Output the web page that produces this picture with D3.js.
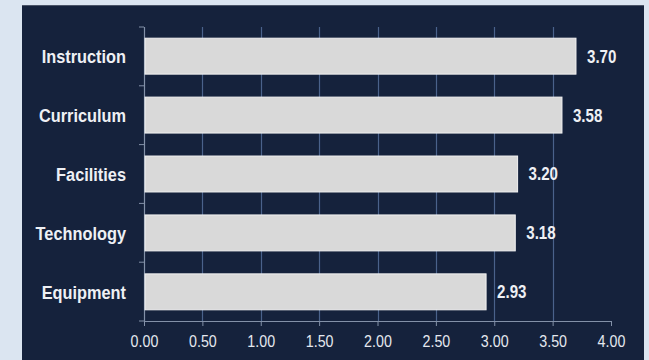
<!DOCTYPE html>
<html>
<head>
<meta charset="utf-8">
<script src="https://cdn.jsdelivr.net/npm/d3@7"></script>
<style>
  body { margin: 0; background: #dbe5f1; }
  svg { display: block; }
</style>
</head>
<body>
<svg id="drawing_region"></svg>
<script>
const categories = ['Instruction', 'Curriculum', 'Facilities', 'Technology', 'Equipment'];
const values = [3.70, 3.58, 3.20, 3.18, 2.93];
const xTicks = [0, 0.5, 1, 1.5, 2, 2.5, 3, 3.5, 4];

const data = categories.map((c, i) => ({ label: c, value: values[i] }));

const width = 649, height = 360;
const margin = { top: 27, right: 38, bottom: 39, left: 144 };
const inner_width = width - margin.left - margin.right;
const inner_height = height - margin.top - margin.bottom;
const font = "'Liberation Sans', Arial, sans-serif";
const squeeze = 0.84;   // the original type is a narrow face

const svg = d3.select('#drawing_region')
    .attr('width', width)
    .attr('height', height);

// dark panel
svg.append('rect')
    .attr('x', 22).attr('y', 5)
    .attr('width', 622).attr('height', 360)
    .attr('fill', '#15223c');
svg.append('line')
    .attr('x1', 22).attr('x2', 644).attr('y1', 5.5).attr('y2', 5.5)
    .attr('stroke', '#4a5468').attr('stroke-width', 1);

const chart = svg.append('g')
    .attr('transform', `translate(${margin.left}, ${margin.top})`);

const xscale = d3.scaleLinear()
    .domain([0, 4])
    .range([0, inner_width]);

const yscale = d3.scaleBand()
    .domain(categories)
    .range([0, inner_height])
    .paddingInner(0.39)
    .paddingOuter(0.19);

// gridlines
chart.append('g')
    .selectAll('line')
    .data(xTicks.filter(t => t > 0 && t < 4))
    .enter()
    .append('line')
    .attr('x1', d => Math.round(xscale(d)) + 0.5)
    .attr('x2', d => Math.round(xscale(d)) + 0.5)
    .attr('y1', 0)
    .attr('y2', inner_height)
    .attr('stroke', '#4a628b')
    .attr('stroke-width', 1.2);

// x axis
const xaxis = d3.axisBottom(xscale)
    .tickValues(xTicks)
    .tickFormat(d3.format('.2f'))
    .tickSize(5)
    .tickSizeOuter(0);

const xaxis_group = chart.append('g')
    .attr('transform', `translate(0, ${inner_height})`)
    .call(xaxis);
xaxis_group.select('.domain').attr('stroke', '#8391a8').attr('stroke-width', 1.2);
xaxis_group.selectAll('.tick line').attr('stroke', '#8391a8');
xaxis_group.selectAll('.tick text')
    .attr('fill', '#e4e8ef')
    .attr('font-size', '17px')
    .attr('font-family', font)
    .attr('y', 0)
    .attr('dy', '0')
    .attr('transform', `translate(0, 26) scale(${squeeze}, 1)`);

// y axis: ticks at band boundaries
const boundaries = d3.range(categories.length + 1).map(i => i * inner_height / categories.length);
const yaxis_group = chart.append('g');
yaxis_group.append('line')
    .attr('x1', 0.5).attr('x2', 0.5)
    .attr('y1', 0).attr('y2', inner_height)
    .attr('stroke', '#8391a8').attr('stroke-width', 1.2);
yaxis_group.selectAll('line.tk')
    .data(boundaries)
    .enter()
    .append('line')
    .attr('class', 'tk')
    .attr('x1', -5).attr('x2', 0)
    .attr('y1', d => d).attr('y2', d => d)
    .attr('stroke', '#8391a8');

// category labels
chart.selectAll('text.cat')
    .data(data)
    .enter()
    .append('text')
    .attr('class', 'cat')
    .attr('transform', d => `translate(-18, ${yscale(d.label) + yscale.bandwidth() / 2}) scale(0.86, 1)`)
    .attr('dy', '0.36em')
    .attr('text-anchor', 'end')
    .attr('fill', '#eef0f4')
    .attr('font-size', '19px')
    .attr('font-weight', 'bold')
    .attr('font-family', font)
    .text(d => d.label);

// bars
chart.selectAll('rect.bar')
    .data(data)
    .enter()
    .append('rect')
    .attr('class', 'bar')
    .attr('x', xscale(0) + 1)
    .attr('y', d => yscale(d.label))
    .attr('width', d => xscale(d.value) - xscale(0) - 1)
    .attr('height', yscale.bandwidth())
    .attr('fill', '#d9d9d9')
    .attr('stroke', '#f2f2f2')
    .attr('stroke-width', 1);

// value labels
chart.selectAll('text.val')
    .data(data)
    .enter()
    .append('text')
    .attr('class', 'val')
    .attr('transform', d => `translate(${xscale(d.value) + 11}, ${yscale(d.label) + yscale.bandwidth() / 2}) scale(${squeeze}, 1)`)
    .attr('dy', '0.36em')
    .attr('fill', '#eef0f4')
    .attr('font-size', '18px')
    .attr('font-weight', 'bold')
    .attr('font-family', font)
    .text(d => d3.format('.2f')(d.value));
</script>
</body>
</html>
